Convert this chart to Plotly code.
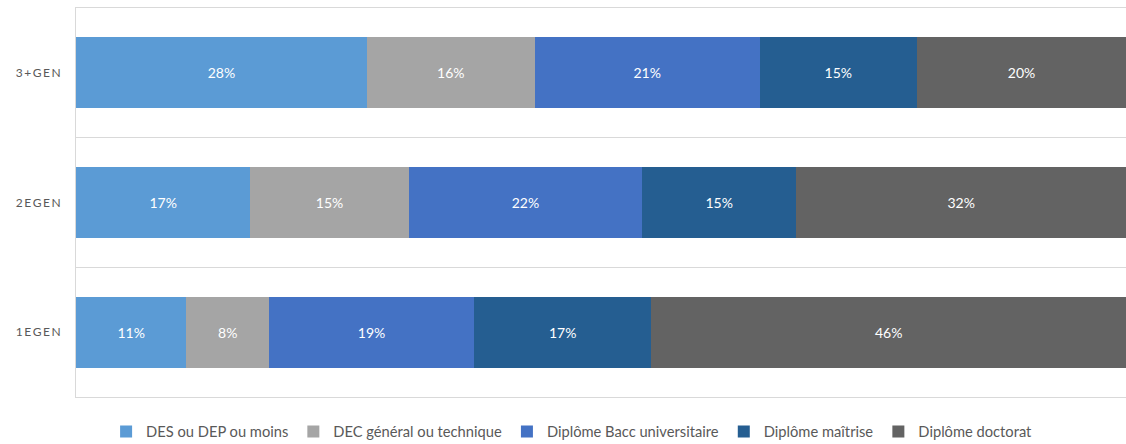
import plotly.graph_objects as go

categories = ["3\u2009+\u2009G\u2009E\u2009N", "2\u2009E\u2009G\u2009E\u2009N", "1\u2009E\u2009G\u2009E\u2009N"]
series_names = ["DES ou DEP ou moins", "DEC général ou technique", "Diplôme Bacc universitaire",
                "Diplôme maîtrise", "Diplôme doctorat"]
des = [27.7, 16.6, 10.5]
dec = [16.0, 15.1, 7.9]
bacc = [21.4, 22.2, 19.5]
maitrise = [15.0, 14.7, 16.9]
doctorat = [19.9, 31.4, 45.2]
des_lbl = ["28%", "17%", "11%"]
dec_lbl = ["16%", "15%", "8%"]
bacc_lbl = ["21%", "22%", "19%"]
maitrise_lbl = ["15%", "15%", "17%"]
doctorat_lbl = ["20%", "32%", "46%"]
colors = ["#5B9BD5", "#A5A5A5", "#4472C4", "#255E91", "#636363"]

fig = go.Figure()
for name, vals, lbls, col in zip(series_names, [des, dec, bacc, maitrise, doctorat],
                                 [des_lbl, dec_lbl, bacc_lbl, maitrise_lbl, doctorat_lbl], colors):
    fig.add_trace(go.Bar(
        y=categories, x=vals, name=name, orientation="h",
        marker=dict(color=col, line=dict(width=0)),
        text=lbls, textposition="inside", insidetextanchor="middle",
        textfont=dict(color="white", size=14, family="Lato"),
        constraintext="none", hoverinfo="skip",
    ))

fig.update_layout(
    barmode="stack", bargap=0.45,
    width=1126, height=444,
    margin=dict(l=76, r=0, t=8, b=47, autoexpand=False),
    plot_bgcolor="white", paper_bgcolor="white",
    font=dict(family="Lato", color="#595959"),
    legend=dict(orientation="h", x=0.472, xanchor="center", y=-0.09, yanchor="middle",
                font=dict(size=14.7, color="#595959"), traceorder="normal"),
    uniformtext=dict(mode="show", minsize=14),
)
fig.update_xaxes(range=[0, 100], showticklabels=False, showgrid=False, zeroline=False,
                 showline=True, mirror=True, linecolor="#D9D9D9", linewidth=1, automargin=False)
fig.update_yaxes(autorange="reversed", tickson="boundaries", showgrid=True, gridcolor="#D9D9D9",
                 gridwidth=1, showline=True, linecolor="#D9D9D9", linewidth=1, ticks="",
                 tickfont=dict(size=12, color="#595959"), ticklabelstandoff=12, automargin=False)

fig.write_html("out.html", config={"displayModeBar": False},
               post_script="document.body.style.margin='0';document.body.style.overflow='hidden';")
